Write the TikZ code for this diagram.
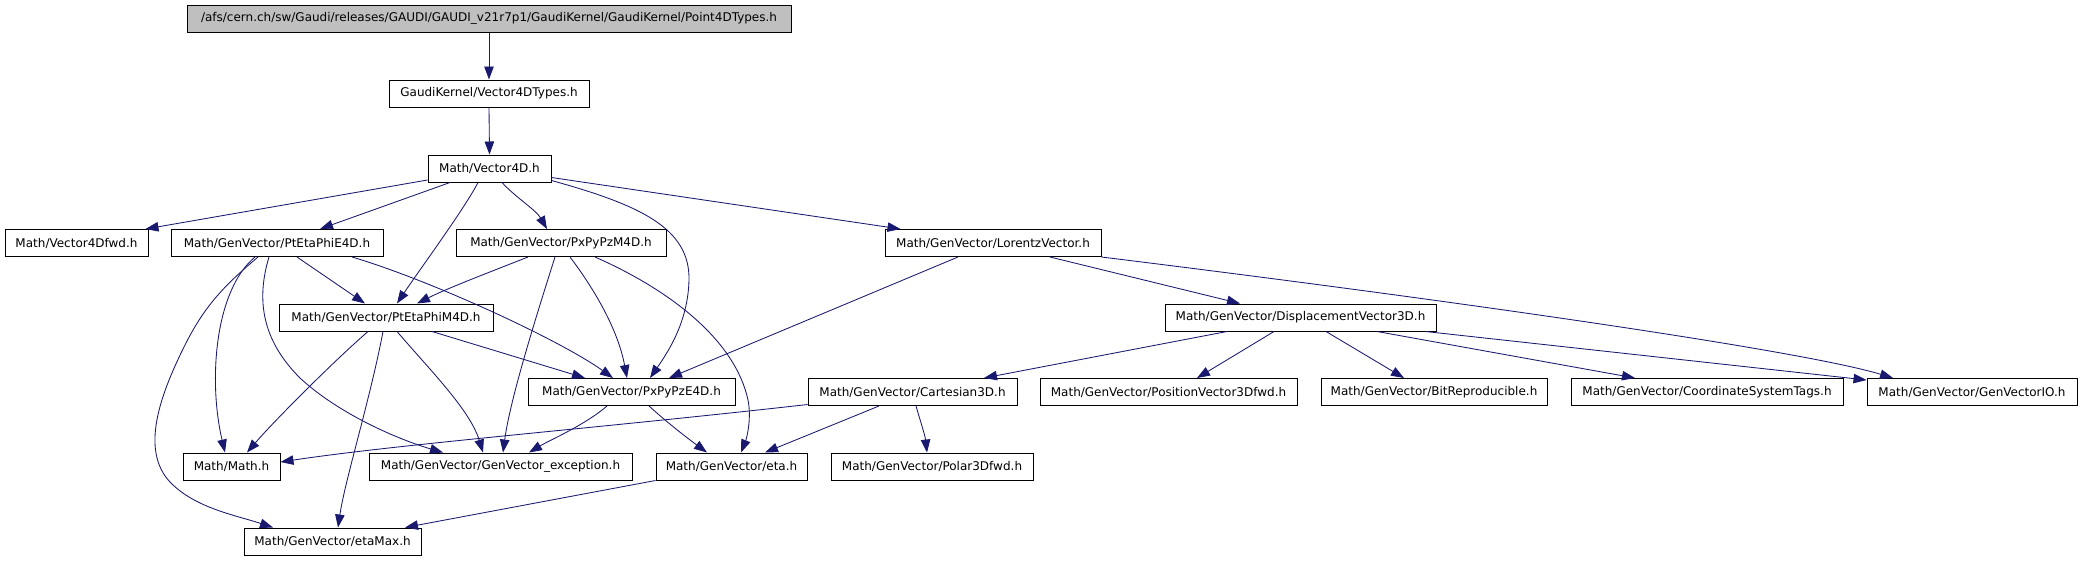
\documentclass[tikz,border=0pt]{standalone}
\usepackage{fontspec}
\setmainfont{DejaVu Sans}
\usetikzlibrary{arrows.meta}
\definecolor{edgeblue}{HTML}{191970}
\definecolor{rootgrey}{HTML}{BFBFBF}
\begin{document}
\begin{tikzpicture}[x=1pt,y=-1pt,
  box/.style={draw=black, line width=1pt, fill=white, minimum height=27pt, inner sep=0pt,
              font=\fontsize{12}{14}\selectfont, anchor=center},
  dep/.style={draw=edgeblue, line width=0.85pt, -{Triangle[length=13pt,width=9.5pt]}},
]
\useasboundingbox (0,0) rectangle (2082,560);
\fill[white] (0,0) rectangle (2082,560);

% nodes
\node[box, fill=rootgrey, minimum width=604pt] (root) at (489,18.5) {/afs/cern.ch/sw/Gaudi/releases/GAUDI/GAUDI\_v21r7p1/GaudiKernel/GaudiKernel/Point4DTypes.h};
\node[box, minimum width=200pt] (v4dtypes) at (489,93.5) {GaudiKernel/Vector4DTypes.h};
\node[box, minimum width=123pt] (v4d) at (489.5,168.5) {Math/Vector4D.h};
\node[box, minimum width=143pt] (v4dfwd) at (76.5,243) {Math/Vector4Dfwd.h};
\node[box, minimum width=212pt] (pte) at (277,243) {Math/GenVector/PtEtaPhiE4D.h};
\node[box, minimum width=210pt] (pxm) at (561,243) {Math/GenVector/PxPyPzM4D.h};
\node[box, minimum width=216pt] (lor) at (993,243) {Math/GenVector/LorentzVector.h};
\node[box, minimum width=214pt] (ptm) at (386,317.5) {Math/GenVector/PtEtaPhiM4D.h};
\node[box, minimum width=271pt] (disp) at (1300.5,317.5) {Math/GenVector/DisplacementVector3D.h};
\node[box, minimum width=207pt] (pxe) at (631.5,392) {Math/GenVector/PxPyPzE4D.h};
\node[box, minimum width=209pt] (cart) at (912.5,392) {Math/GenVector/Cartesian3D.h};
\node[box, minimum width=257pt] (posf) at (1168.5,392) {Math/GenVector/PositionVector3Dfwd.h};
\node[box, minimum width=226pt] (bit) at (1434,392) {Math/GenVector/BitReproducible.h};
\node[box, minimum width=272pt] (coord) at (1707,392) {Math/GenVector/CoordinateSystemTags.h};
\node[box, minimum width=210pt] (gvio) at (1972,392) {Math/GenVector/GenVectorIO.h};
\node[box, minimum width=97pt] (math) at (231.5,466.5) {Math/Math.h};
\node[box, minimum width=263pt] (exc) at (500.5,466.5) {Math/GenVector/GenVector\_exception.h};
\node[box, minimum width=151pt] (eta) at (731.5,466.5) {Math/GenVector/eta.h};
\node[box, minimum width=202pt] (polar) at (932,466.5) {Math/GenVector/Polar3Dfwd.h};
\node[box, minimum width=177pt] (etamax) at (332.5,541.5) {Math/GenVector/etaMax.h};

% edges
\draw[dep] (root.south) -- (v4dtypes.north);
\draw[dep] (v4dtypes.south) -- (v4d.north);

\draw[dep] ([yshift=2.5pt]v4d.south west) -- ([xshift=-3pt]v4dfwd.north east);
\draw[dep] ([xshift=-39.5pt]v4d.south) -- ([xshift=43pt]pte.north);
\draw[dep] ([xshift=-11.5pt]v4d.south) .. controls (465,208) and (418,272) .. ([xshift=11pt]ptm.north);
\draw[dep] ([xshift=12.5pt]v4d.south) .. controls (514,196) and (536,210) .. ([xshift=-14pt]pxm.north);
\draw[dep] ([yshift=2pt]v4d.south east) .. controls (640,205) and (690,228) .. (689,280) .. controls (688,322) and (668,352) .. ([xshift=18.5pt]pxe.north);
\draw[dep] ([yshift=5pt]v4d.south east) -- ([xshift=16pt]lor.north west);

\draw[dep] ([xshift=20pt]pte.south) -- ([xshift=-21pt]ptm.north);
\draw[dep] ([xshift=75pt]pte.south) .. controls (430,280) and (560,340) .. ([xshift=-18.5pt]pxe.north);
\draw[dep] ([xshift=-22pt]pte.south) .. controls (215,290) and (208,380) .. ([xshift=-6.5pt]math.north);
\draw[dep] ([xshift=-8pt]pte.south) .. controls (256,300) and (262,340) .. (300,378) .. controls (340,415) and (400,440) .. ([xshift=-57.5pt]exc.north);
\draw[dep] ([xshift=-19pt]pte.south) .. controls (225,285) and (205,305) .. (185,345) .. controls (160,395) and (140,450) .. (170,482) .. controls (195,508) and (235,515) .. ([xshift=-59.5pt]etamax.north);

\draw[dep] ([xshift=-33pt]pxm.south) .. controls (490,272) and (448,288) .. ([xshift=31pt]ptm.north);
\draw[dep] ([xshift=9pt]pxm.south) .. controls (595,290) and (618,330) .. ([xshift=-4.5pt]pxe.north);
\draw[dep] ([xshift=-6pt]pxm.south) .. controls (535,320) and (510,400) .. ([xshift=2.5pt]exc.north);
\draw[dep] ([xshift=34pt]pxm.south) .. controls (670,290) and (735,340) .. (748,400) .. controls (752,420) and (746,440) .. ([xshift=9.5pt]eta.north);

\draw[dep] ([xshift=-35pt]lor.south) -- ([xshift=37.5pt]pxe.north);
\draw[dep] ([xshift=57pt]lor.south) -- ([xshift=-60.5pt]disp.north);
\draw[dep] (lor.south east) .. controls (1450,300) and (1800,350) .. ([xshift=-79pt]gvio.north);

\draw[dep] ([xshift=46pt]ptm.south) -- ([xshift=-46.5pt]pxe.north);
\draw[dep] ([xshift=-18pt]ptm.south) .. controls (335,360) and (275,420) .. ([xshift=15.5pt]math.north);
\draw[dep] ([xshift=11pt]ptm.south) .. controls (430,370) and (470,410) .. ([xshift=-17.5pt]exc.north);
\draw[dep] ([xshift=-3pt]ptm.south) .. controls (370,400) and (345,480) .. ([xshift=5.5pt]etamax.north);

\draw[dep] ([xshift=-24.5pt]pxe.south) .. controls (585,425) and (550,440) .. ([xshift=28.5pt]exc.north);
\draw[dep] ([xshift=17.5pt]pxe.south) .. controls (670,425) and (690,440) .. ([xshift=-24.5pt]eta.north);

\draw[dep] ([xshift=-73.5pt]disp.south) -- ([xshift=71.5pt]cart.north);
\draw[dep] ([xshift=-26.5pt]disp.south) -- ([xshift=28.5pt]posf.north);
\draw[dep] ([xshift=25.5pt]disp.south) -- ([xshift=-30pt]bit.north);
\draw[dep] ([xshift=76.5pt]disp.south) -- ([xshift=-72pt]coord.north);
\draw[dep] ([xshift=-11pt]disp.south east) -- ([yshift=-2pt]gvio.north west);

\draw[dep] ([yshift=1.5pt]cart.south west) .. controls (600,428) and (400,444) .. ([yshift=4.5pt]math.east);
\draw[dep] ([xshift=-33.5pt]cart.south) -- ([xshift=33.5pt]eta.north);
\draw[dep] ([xshift=3.5pt]cart.south) .. controls (920,420) and (925,435) .. ([xshift=-5pt]polar.north);

\draw[dep] (eta.south west) -- ([xshift=72.5pt]etamax.north);
\end{tikzpicture}
\end{document}
